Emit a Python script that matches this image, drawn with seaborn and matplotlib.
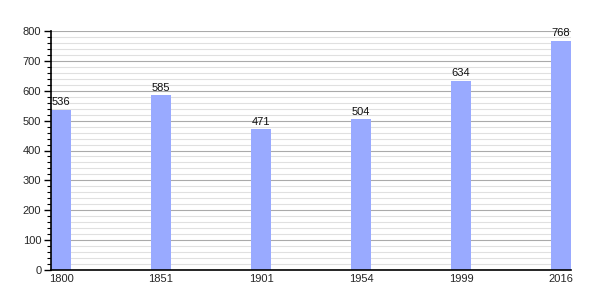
import matplotlib
matplotlib.use("Agg")
import matplotlib.pyplot as plt
import seaborn as sns
import pandas as pd
from matplotlib.ticker import MultipleLocator

years = ["1800", "1851", "1901", "1954", "1999", "2016"]
population = [536, 585, 471, 504, 634, 768]

sns.set_style("white")
plt.rcParams['font.family'] = ['Liberation Sans', 'DejaVu Sans']

df = pd.DataFrame({"year": years, "pop": population})

fig = plt.figure(figsize=(6, 3), dpi=100)
ax = fig.add_axes([51/600, 30/300, 520/600, 239/300])

ax.yaxis.set_major_locator(MultipleLocator(100))
ax.yaxis.set_minor_locator(MultipleLocator(20))
ax.grid(which='major', axis='y', color='#aaaaaa', linewidth=0.8, zorder=0)
ax.grid(which='minor', axis='y', color='#e0e0e0', linewidth=0.8, zorder=0)
ax.set_axisbelow(True)

sns.barplot(data=df, x="year", y="pop", color="#99aaff", saturation=1,
            width=0.2, ax=ax, zorder=2, linewidth=0)

for i, v in enumerate(population):
    ax.text(i, v + 8, str(v), ha='center', va='bottom', fontsize=8, color='#111111')

ax.set_xlim(-0.1, 5.1)
ax.set_ylim(0, 800)
ax.set_xlabel("")
ax.set_ylabel("")
for s in ['top', 'right']:
    ax.spines[s].set_visible(False)
ax.spines['left'].set_color('black')
ax.spines['bottom'].set_color('black')
ax.spines['left'].set_linewidth(1.2)
ax.spines['bottom'].set_linewidth(1.2)
ax.tick_params(axis='y', which='major', length=5, width=1, color='black', labelsize=8, left=True, pad=2)
ax.tick_params(axis='y', which='minor', length=3, width=0.8, color='black', left=True)
ax.tick_params(axis='x', length=0, labelsize=8, pad=3)

fig.savefig("out.png", dpi=100)
